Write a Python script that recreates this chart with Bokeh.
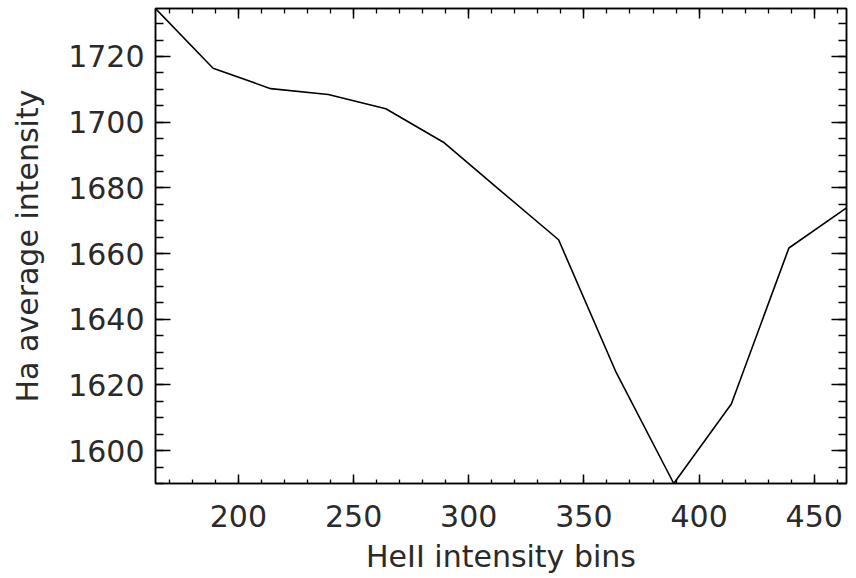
from bokeh.plotting import figure
from bokeh.models import Range1d, LinearAxis, SingleIntervalTicker
from bokeh.embed import file_html
from bokeh.resources import INLINE

heii_bins = [164, 189, 214, 239, 264, 289, 314, 339, 364, 389, 414, 439, 464]
ha_avg = [1734.6, 1716.4, 1710.2, 1708.4, 1704.1, 1693.9, 1679.0, 1664.2,
          1623.8, 1590.0, 1614.2, 1661.7, 1673.9]

x_label = "HeII intensity bins"
y_label = "Ha average intensity"

FONT = "DejaVu Sans"

p = figure(width=856, height=578, output_backend="svg", toolbar_location=None,
           x_range=Range1d(min(heii_bins), max(heii_bins)),
           y_range=Range1d(min(ha_avg), max(ha_avg)),
           x_axis_location=None, y_axis_location=None,
           min_border_left=155, min_border_right=10,
           min_border_top=8, min_border_bottom=95)
p.grid.visible = False
p.outline_line_color = "black"
p.outline_line_width = 1.5
p.background_fill_color = "white"
p.border_fill_color = "white"

p.line(heii_bins, ha_avg, line_color="black", line_width=1.6)


def style(ax, labels, major_len, minor_len):
    ax.axis_line_color = "black"
    ax.axis_line_width = 1.5
    ax.major_tick_in = major_len
    ax.major_tick_out = 0
    ax.minor_tick_in = minor_len
    ax.minor_tick_out = 0
    ax.major_tick_line_color = "black"
    ax.minor_tick_line_color = "black"
    ax.major_tick_line_width = 1.5
    ax.minor_tick_line_width = 1.3
    ax.major_label_text_font = FONT
    ax.major_label_text_font_size = "30px"
    ax.major_label_text_color = "#2a2a2a"
    ax.axis_label_text_font = FONT
    ax.axis_label_text_font_size = "30px"
    ax.axis_label_text_font_style = "normal"
    ax.axis_label_text_color = "#2a2a2a"
    if not labels:
        ax.major_label_text_font_size = "0px"
        ax.major_label_text_alpha = 0


xt = SingleIntervalTicker(interval=50, num_minor_ticks=5)
yt = SingleIntervalTicker(interval=20, num_minor_ticks=4)

bottom = LinearAxis(ticker=xt, axis_label=x_label)
style(bottom, True, 9, 4)
bottom.major_label_standoff = 21
bottom.axis_label_standoff = 9
top = LinearAxis(ticker=xt)
style(top, False, 10, 5)
left = LinearAxis(ticker=yt, axis_label=y_label)
style(left, True, 15, 8)
left.major_label_standoff = 11
left.axis_label_standoff = 20
left.major_label_orientation = "horizontal"
right = LinearAxis(ticker=yt)
style(right, False, 15, 8)

p.add_layout(bottom, "below")
p.add_layout(left, "left")
p.add_layout(top, "above")
p.add_layout(right, "right")

open("out.html", "w").write(file_html(p, INLINE))
